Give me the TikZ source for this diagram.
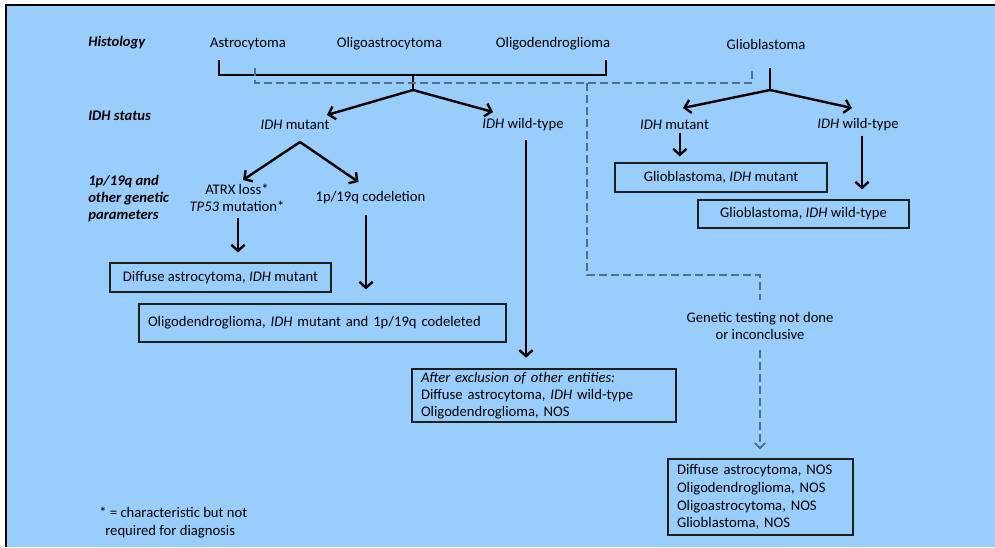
\documentclass[tikz,border=0pt]{standalone}
\usepackage{fontspec}
\setmainfont{Carlito}
\usetikzlibrary{arrows.meta,calc}
\definecolor{bg}{RGB}{153,206,252}
\definecolor{dashc}{RGB}{84,110,136}
\definecolor{boxc}{RGB}{30,30,30}
\begin{document}
\begin{tikzpicture}[x=0.75pt,y=-0.75pt,
  txt/.style={font=\fontsize{11}{13.2}\selectfont, inner sep=0pt, align=center},
  lab/.style={font=\fontsize{11}{13.1}\selectfont\bfseries\itshape, inner sep=0pt, align=left, anchor=west},
  sline/.style={line width=1.8pt, black},
  sarrow/.style={line width=1.8pt, black, -{Straight Barb[length=4.5pt,width=10pt]}},
  dline/.style={line width=1.3pt, dashc, dash pattern=on 6pt off 3pt},
  darrow/.style={line width=1.3pt, dashc, dash pattern=on 6pt off 3pt, -{Straight Barb[length=4pt,width=8pt]}},
  cbox/.style={draw=boxc, line width=0.9pt, font=\fontsize{11}{13.2}\selectfont, inner sep=0pt, align=center},
  lbox/.style={draw=boxc, line width=0.9pt, font=\fontsize{11}{13.2}\selectfont, inner xsep=6.75pt, inner ysep=0pt, align=left}
]
\useasboundingbox (0,0) rectangle (995,547);
\fill[white] (0,0) rectangle (995,547);
\fill[bg] (6,5) rectangle (995,547);
\draw[line width=1.6pt, black] (6,547) -- (6,5) -- (995,5);

% row labels
\node[lab] (hist) at (88,43) {Histology};
\node[lab] (idhstat) at (88,116) {IDH status};
\node[lab] (param) at (88,198.5) {1p/19q and\\other genetic\\parameters};

% histology
\node[txt] (astro) at (248,44) {Astrocytoma};
\node[txt] (oastro) at (389.5,44) {Oligoastrocytoma};
\node[txt] (odendro) at (553,44) {Oligodendroglioma};
\node[txt] (gbm) at (766,44) {Glioblastoma};

% IDH status
\node[txt] (imut) at (295,125) {\textit{IDH} mutant};
\node[txt] (iwt) at (523,125) {\textit{IDH} wild-type};
\node[txt] (gmut) at (674.5,125) {\textit{IDH} mutant};
\node[txt] (gwt) at (858,125) {\textit{IDH} wild-type};

% genetic parameters
\node[txt] (atrx) at (237,198) {ATRX loss*\\\textit{TP53} mutation*};
\node[txt] (codel) at (370.5,198) {1p/19q codeletion};

% boxes
\node[cbox, minimum width=165.75pt, minimum height=21.75pt] (boxA) at (220.5,277.5) {Diffuse astrocytoma, \textit{IDH} mutant};
\node[lbox, text width=261.75pt, minimum height=28.5pt] (boxB) at (322.5,323) {Oligodendroglioma, \textit{IDH} mutant and 1p/19q codeleted};
\node[lbox, text width=184.5pt, minimum height=39.75pt, font=\fontsize{11}{12.75}\selectfont] (boxC) at (544,395.5) {\textit{After exclusion of other entities:}\\Diffuse astrocytoma, \textit{IDH} wild-type\\Oligodendroglioma, NOS};
\node[cbox, minimum width=159pt, minimum height=21.75pt] (boxD) at (721,177.5) {Glioblastoma, \textit{IDH} mutant};
\node[cbox, minimum width=158.25pt, minimum height=21pt] (boxE) at (803.5,214) {Glioblastoma, \textit{IDH} wild-type};
\node[lbox, text width=125.25pt, minimum height=57pt, font=\fontsize{11}{13.3}\selectfont] (boxF) at (760.5,497) {Diffuse astrocytoma, NOS\\Oligodendroglioma, NOS\\Oligoastrocytoma, NOS\\Glioblastoma, NOS};

\node[txt] (genetic) at (760,326) {Genetic testing not done\\or inconclusive};
\node[txt, align=left, anchor=west, font=\fontsize{11}{13.5}\selectfont] (foot) at (99,523) {* = characteristic but not\\\hspace{4.5pt}required for diagnosis};

% solid bracket for astro/oligo group
\coordinate (bl) at (219,60);
\coordinate (blc) at (219,75);
\coordinate (brc) at (606,75);
\coordinate (br) at (606,60);
\coordinate (bm) at (413,75);
\coordinate (bj) at (413,90);
\draw[sline] (bl) -- (blc) -- (brc) -- (br);
\draw[sline] (bm) -- (bj);
\draw[sarrow] (bj) -- ($(imut.center)+(32,-10)$);
\draw[sarrow] (bj) -- ($(iwt.center)+(-30,-13)$);

% IDH mutant split
\coordinate (mapex) at ($(imut.center)+(5,17)$);
\draw[sarrow] (mapex) -- ($(atrx.center)+(6,-18)$);
\draw[sarrow] (mapex) -- ($(codel.center)+(-12,-16)$);

% vertical arrows
\draw[sarrow, shorten <=4pt, shorten >=7.5pt] ([xshift=0.75pt]atrx.south) -- ([xshift=0.75pt]atrx.south |- boxA.north);
\draw[sarrow, shorten <=8pt, shorten >=10.5pt] ([xshift=-3.4pt]codel.south) -- ([xshift=-3.4pt]codel.south |- boxB.north);
\draw[sarrow, shorten <=6pt, shorten >=8pt] ([xshift=2.25pt]iwt.south) -- ([xshift=2.25pt]iwt.south |- boxC.north);

% glioblastoma branch
\coordinate (gtop) at (770,68);
\coordinate (gj) at (770,90);
\draw[sline] (gtop) -- (gj);
\draw[sarrow] (gj) -- ($(gmut.center)+(8.5,-17)$);
\draw[sarrow] (gj) -- ($(gwt.center)+(-6,-17)$);
\draw[sarrow, shorten <=2pt, shorten >=4.5pt] ([xshift=4pt]gmut.south) -- ([xshift=4pt]gmut.south |- boxD.north);
\draw[sarrow, shorten <=3pt, shorten >=7.5pt] ([xshift=3pt]gwt.south) -- ([xshift=3pt]gwt.south |- boxE.north);

% dashed route for untested cases
\coordinate (dl) at (255,68);
\coordinate (dlc) at (255,83);
\coordinate (drc) at (752,83);
\coordinate (dr) at (752,67);
\coordinate (dm) at (587,83);
\coordinate (dlow) at (587,275);
\coordinate (dturn) at (760,275);
\draw[dline] (dl) -- (dlc) -- (drc) -- (dr);
\draw[dline, shorten >=9pt] (dm) -- (dlow) -- (dturn) -- (genetic.north);
\draw[darrow, shorten <=7pt, shorten >=6.75pt] (genetic.south) -- (genetic.south |- boxF.north);
\end{tikzpicture}
\end{document}
